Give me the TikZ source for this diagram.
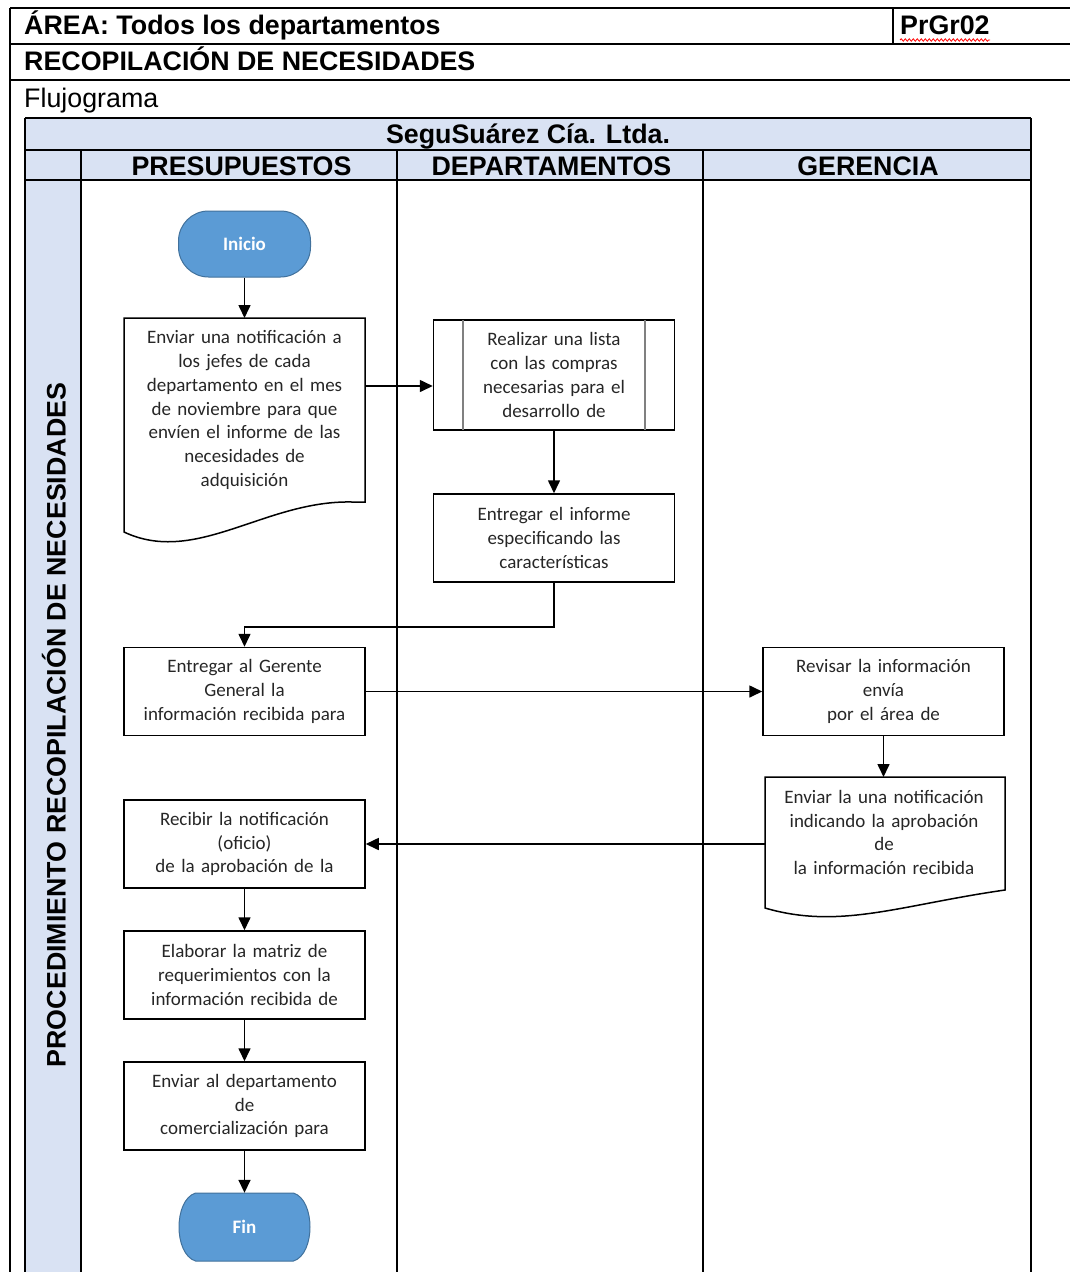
\documentclass[tikz,border=0pt]{standalone}
\usepackage{fontspec}
\setmainfont{Liberation Sans}
\newfontfamily\calfont{Carlito}
\usetikzlibrary{arrows.meta,calc,decorations.pathmorphing}
\definecolor{laneblue}{HTML}{D9E2F3}
\definecolor{termfill}{HTML}{5B9BD5}
\definecolor{termline}{HTML}{41719C}
\definecolor{subgray}{HTML}{808080}
\tikzset{
  rule/.style={draw=black, line width=1.4pt},
  hdr/.style={font=\fontsize{26.8}{30}\selectfont\bfseries, inner sep=0pt, anchor=base west},
  lanehdr/.style={font=\fontsize{26.8}{30}\selectfont\bfseries, inner sep=0pt, anchor=base},
  boxtxt/.style={font=\calfont\fontsize{19}{23.7}\selectfont, align=center, inner sep=0pt, text width=235pt, text=black!85},
  proc/.style={boxtxt, draw=black, line width=1.5pt, minimum width=241pt, minimum height=88pt},
  shapeline/.style={draw, line width=1.5pt, fill=white},
  term/.style={fill=termfill, draw=termline, line width=1pt},
  termtxt/.style={text=white, font=\calfont\bfseries\fontsize{19}{22}\selectfont},
  arr/.style={draw, line width=1.6pt, -{Triangle[length=13pt,width=12pt]}},
}
\begin{document}
\begin{tikzpicture}[x=1pt, y=-1pt]
\useasboundingbox (0,0) rectangle (1070,1272);

% form header
\draw[rule] (10,8) -- (1070,8);
\draw[rule] (10,44) -- (1070,44);
\draw[rule] (10,80) -- (1070,80);
\draw[rule] (893,8) -- (893,44);
\draw[rule] (10,8) -- (10,1272);
\node[hdr] (area) at (24,34) {ÁREA: Todos los departamentos};
\node[hdr] (code) at (900,34) {PrGr02};
\draw[red, line width=0.8pt, decorate, decoration={snake, amplitude=1.2pt, segment length=4pt}] (900,40) -- (990,40);
\node[hdr] (proc) at (24,70) {RECOPILACIÓN DE NECESIDADES};
\node[hdr, font=\fontsize{26.8}{30}\selectfont] (flujo) at (24,107) {Flujograma};

% swimlane table
\fill[laneblue] (25,118) rectangle (1031,180);
\fill[laneblue] (25,180) rectangle (81,1272);
\draw[rule] (25,118) -- (1031,118);
\draw[rule] (25,150) -- (1031,150);
\draw[rule] (25,180) -- (1031,180);
\draw[rule] (25,118) -- (25,1272);
\draw[rule] (1031,118) -- (1031,1272);
\draw[rule] (81,150) -- (81,1272);
\draw[rule] (397,150) -- (397,1272);
\draw[rule] (703,150) -- (703,1272);
\node[lanehdr] (ttl) at (528,143) {SeguSuárez Cía. Ltda.};
\node[lanehdr] (lp) at (241.5,175) {PRESUPUESTOS};
\node[lanehdr] (ld) at (551.5,175) {DEPARTAMENTOS};
\node[lanehdr] (lg) at (868,175) {GERENCIA};
\node[lanehdr, rotate=90] (lbl) at (65.5,725) {PROCEDIMIENTO RECOPILACIÓN DE NECESIDADES};

% start
\node[term, rounded corners=30pt, minimum width=132pt, minimum height=66pt, termtxt] (ini) at (244.5,244) {Inicio};

% document: notification to department heads
\draw[shapeline] (124,318) -- (365,318) -- (365,502) -- (352,502)
  .. controls (265,500) and (196,566) .. (124,532) -- cycle;
\coordinate (d1top) at (244.5,318);
\coordinate (d1right) at (365,386);
\node[boxtxt] (d1) at (244.5,410) {Enviar una notificación a\\ los jefes de cada\\ departamento en el mes\\ de noviembre para que\\ envíen el informe de las\\ necesidades de\\ adquisición};

% predefined process
\node[proc, minimum height=110pt] (sub) at (554,375) {Realizar una lista\\ con las compras\\ necesarias para el\\ desarrollo de};
\draw[subgray, line width=2.4pt, shorten <=0.8pt, shorten >=0.8pt] ($(sub.north west)+(30,0)$) -- ($(sub.south west)+(30,0)$);
\draw[subgray, line width=2.4pt, shorten <=0.8pt, shorten >=0.8pt] ($(sub.north east)+(-30,0)$) -- ($(sub.south east)+(-30,0)$);

\node[proc] (ent) at (554,538) {Entregar el informe\\ especificando las\\ características};
\node[proc] (n4) at (244.5,691.5) {Entregar al Gerente\\ General la\\ información recibida para};
\node[proc] (rev) at (883.5,691.5) {Revisar la información\\ envía\\ por el área de};

% document: approval notice
\draw[shapeline] (765,777) -- (1005,777) -- (1005,890)
  .. controls (900,905) and (840,930) .. (765,908) -- cycle;
\coordinate (d2top) at (883.5,777);
\coordinate (d2left) at (765,844);
\node[boxtxt] (d2) at (884,832.5) {Enviar la una notificación\\ indicando la aprobación\\ de\\ la información recibida};

\node[proc] (n6) at (244.5,844) {Recibir la notificación\\ (oficio)\\ de la aprobación de la};
\node[proc] (n7) at (244.5,975) {Elaborar la matriz de\\ requerimientos con la\\ información recibida de};
\node[proc] (n8) at (244.5,1106) {Enviar al departamento\\ de\\ comercialización para};

% end
\draw[term] (195.5,1193) -- (293.5,1193) .. controls (315.5,1200) and (315.5,1254) .. (293.5,1261)
  -- (195.5,1261) .. controls (173.5,1254) and (173.5,1200) .. (195.5,1193) -- cycle;
\node[termtxt, minimum width=130pt, minimum height=68pt] (fin) at (244.5,1227) {Fin};

% connectors
\draw[arr] (ini.south) -- (d1top);
\draw[arr] (d1right) -- (d1right -| sub.west);
\draw[arr] (sub.south) -- (ent.north);
\draw[arr] (ent.south) -- ++(0,44) -| (n4.north);
\draw[arr] (n4.east) -- (rev.west);
\draw[arr] (rev.south) -- (d2top);
\draw[arr] (d2left) -- (n6.east);
\draw[arr] (n6.south) -- (n7.north);
\draw[arr] (n7.south) -- (n8.north);
\draw[arr] (n8.south) -- (fin.north);
\end{tikzpicture}
\end{document}
